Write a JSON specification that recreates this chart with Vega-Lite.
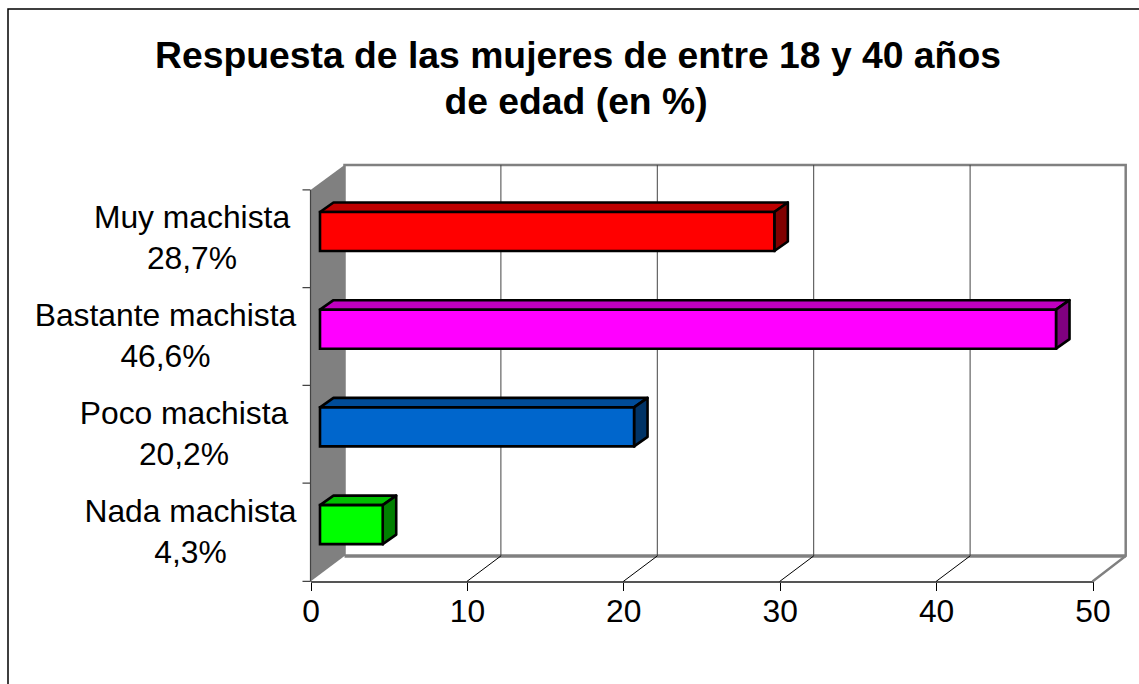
{
"$schema":"https://vega.github.io/schema/vega-lite/v6.json",
"width":1139,"height":684,"autosize":{"type":"none"},"padding":0,"background":"white",
"config":{"view":{"stroke":null},"text":{"font":"Liberation Sans"}},
"title":{"text":"Respuesta de las mujeres de entre 18 y 40 años","font":"Liberation Sans","fontSize":37.3,"fontWeight":"bold","color":"black","baseline":"alphabetic","anchor":"middle","frame":"group","offset":-68,"dx":8.5,"dy":37.5},
"resolve":{"scale":{"fill":"independent","color":"independent"}},
"datasets":{
"barras":[
{"categoria":"Muy machista","valor":29.05,"etiqueta":"Muy machista\n28,7%"},
{"categoria":"Bastante machista","valor":47.06,"etiqueta":"Bastante machista\n46,6%"},
{"categoria":"Poco machista","valor":20.08,"etiqueta":"Poco machista\n20,2%"},
{"categoria":"Nada machista","valor":4.01,"etiqueta":"Nada machista\n4,3%"}],
"marcas":[{"t":10},{"t":20},{"t":30},{"t":40}]
},
"layer":[
{"data":{"values":[{}]},"mark":{"type":"point","filled":true,"opacity":1,"fill":"#808080","stroke":null,"size":4,"shape":"M0,-334.7L34,-359.7L34,31.3L0,56.8Z"},
"encoding":{"x":{"datum":0,"type":"quantitative","scale":{"domain":[0,50],"range":[310.5,1092.5],"nice":false},"axis":{"values":[0,10,20,30,40,50],"title":null,"grid":false,"orient":"bottom","offset":-102.5,"domainColor":"#555555","domainWidth":2,"tickColor":"black","tickWidth":1,"tickSize":9,"labelFont":"Liberation Sans","labelFontSize":31.8,"labelColor":"black","labelPadding":6,"labelFlush":false,"labelOverlap":false}},
"y":{"datum":"Nada machista","type":"nominal","scale":{"type":"band","domain":["Muy machista","Bastante machista","Poco machista","Nada machista"],"range":[182.6,573.5],"paddingInner":0,"paddingOuter":0},"axis":null}}},
{"data":{"values":[{}]},"mark":{"type":"point","filled":false,"opacity":1,"stroke":"#808080","strokeWidth":2.5,"size":4,"shape":"M34,31.3L34,-359.7L815.2,-359.7L815.2,31.3L782,56.8"},
"encoding":{"x":{"datum":0,"type":"quantitative"},"y":{"datum":"Nada machista","type":"nominal"}}},
{"data":{"values":[{}]},"mark":{"type":"point","filled":false,"opacity":1,"stroke":"#808080","strokeWidth":3.5,"size":4,"shape":"M34,31.3L815.2,31.3"},
"encoding":{"x":{"datum":0,"type":"quantitative"},"y":{"datum":"Nada machista","type":"nominal"}}},
{"data":{"values":[{}]},"mark":{"type":"point","filled":false,"opacity":1,"stroke":"#444444","strokeWidth":1.2,"size":4,"shape":"M0,-334.7L0,56.8M-8,-334.7L0,-334.7M-8,-237L0,-237M-8,-139.3L0,-139.3M-8,-41.5L0,-41.5M-8,56.8L0,56.8"},
"encoding":{"x":{"datum":0,"type":"quantitative"},"y":{"datum":"Nada machista","type":"nominal"}}},
{"data":{"values":[{}]},"mark":{"type":"point","filled":false,"opacity":1,"stroke":"black","strokeWidth":1.5,"size":4,"shape":"M-302.5,170L-302.5,-515.7L840,-515.7"},
"encoding":{"x":{"datum":0,"type":"quantitative"},"y":{"datum":"Nada machista","type":"nominal"}}},
{"data":{"name":"marcas"},"mark":{"type":"point","filled":false,"opacity":1,"stroke":"#444444","strokeWidth":1,"size":4,"shape":"M34,31.3L34,-359.7"},
"encoding":{"x":{"field":"t","type":"quantitative"},"y":{"datum":"Nada machista","type":"nominal"}}},
{"data":{"name":"marcas"},"mark":{"type":"point","filled":false,"opacity":1,"stroke":"black","strokeWidth":1,"size":4,"shape":"M0,56.8L34,31.3"},
"encoding":{"x":{"field":"t","type":"quantitative"},"y":{"datum":"Nada machista","type":"nominal"}}},
{"data":{"name":"barras"},"mark":{"type":"point","filled":true,"opacity":1,"stroke":"black","strokeWidth":2.6,"strokeJoin":"round","size":4},
"encoding":{"x":{"datum":0,"type":"quantitative"},"y":{"field":"categoria","type":"nominal"},
"shape":{"field":"categoria","type":"nominal","legend":null,"scale":{"domain":["Muy machista","Bastante machista","Poco machista","Nada machista"],"range":["M9.5,-19.5L23,-29L477.3,-29L463.8,-19.5Z","M9.5,-19.5L23,-29L759,-29L745.5,-19.5Z","M9.5,-19.5L23,-29L337,-29L323.5,-19.5Z","M9.5,-19.5L23,-29L85.7,-29L72.2,-19.5Z"]}},
"fill":{"field":"categoria","type":"nominal","legend":null,"scale":{"domain":["Muy machista","Bastante machista","Poco machista","Nada machista"],"range":["#BF0000","#BF00BF","#004C99","#00BF00"]}}}},
{"data":{"name":"barras"},"mark":{"type":"point","filled":true,"opacity":1,"stroke":"black","strokeWidth":2.6,"strokeJoin":"round","size":4,"shape":"M9.5,-19.5L23,-29L23,10L9.5,19.5Z"},
"encoding":{"x":{"field":"valor","type":"quantitative"},"y":{"field":"categoria","type":"nominal"},
"fill":{"field":"categoria","type":"nominal","legend":null,"scale":{"domain":["Muy machista","Bastante machista","Poco machista","Nada machista"],"range":["#800000","#800080","#003366","#008000"]}}}},
{"data":{"name":"barras"},"mark":{"type":"rect","height":39,"xOffset":9.5,"x2Offset":9.5,"stroke":"black","strokeWidth":2.6,"opacity":1},
"encoding":{"x":{"field":"valor","type":"quantitative"},"x2":{"datum":0},"y":{"field":"categoria","type":"nominal"},
"fill":{"field":"categoria","type":"nominal","legend":null,"scale":{"domain":["Muy machista","Bastante machista","Poco machista","Nada machista"],"range":["#FF0000","#FF00FF","#0066CC","#00FF00"]}}}},
{"data":{"name":"barras"},"transform":[{"filter":"datum.categoria=='Muy machista'"}],"mark":{"type":"text","lineBreak":"\n","lineHeight":41,"fontSize":31.8,"align":"center","baseline":"alphabetic","dx":-118.5,"dy":-3.5,"color":"black","font":"Liberation Sans"},
"encoding":{"x":{"datum":0,"type":"quantitative"},"y":{"field":"categoria","type":"nominal"},"text":{"field":"etiqueta"}}},
{"data":{"name":"barras"},"transform":[{"filter":"datum.categoria=='Bastante machista'"}],"mark":{"type":"text","lineBreak":"\n","lineHeight":41,"fontSize":31.8,"align":"center","baseline":"alphabetic","dx":-145,"dy":-3.2,"color":"black","font":"Liberation Sans"},
"encoding":{"x":{"datum":0,"type":"quantitative"},"y":{"field":"categoria","type":"nominal"},"text":{"field":"etiqueta"}}},
{"data":{"name":"barras"},"transform":[{"filter":"datum.categoria=='Poco machista'"}],"mark":{"type":"text","lineBreak":"\n","lineHeight":41,"fontSize":31.8,"align":"center","baseline":"alphabetic","dx":-126.5,"dy":-3,"color":"black","font":"Liberation Sans"},
"encoding":{"x":{"datum":0,"type":"quantitative"},"y":{"field":"categoria","type":"nominal"},"text":{"field":"etiqueta"}}},
{"data":{"name":"barras"},"transform":[{"filter":"datum.categoria=='Nada machista'"}],"mark":{"type":"text","lineBreak":"\n","lineHeight":41,"fontSize":31.8,"align":"center","baseline":"alphabetic","dx":-120,"dy":-2.7,"color":"black","font":"Liberation Sans"},
"encoding":{"x":{"datum":0,"type":"quantitative"},"y":{"field":"categoria","type":"nominal"},"text":{"field":"etiqueta"}}},
{"data":{"values":[{"linea":"de edad (en %)"}]},"mark":{"type":"text","fontSize":37.3,"fontWeight":"bold","align":"center","baseline":"alphabetic","dx":265.5,"dy":-411,"color":"black","font":"Liberation Sans"},
"encoding":{"x":{"datum":0,"type":"quantitative"},"y":{"datum":"Nada machista","type":"nominal"},"text":{"field":"linea"}}}
]
}
